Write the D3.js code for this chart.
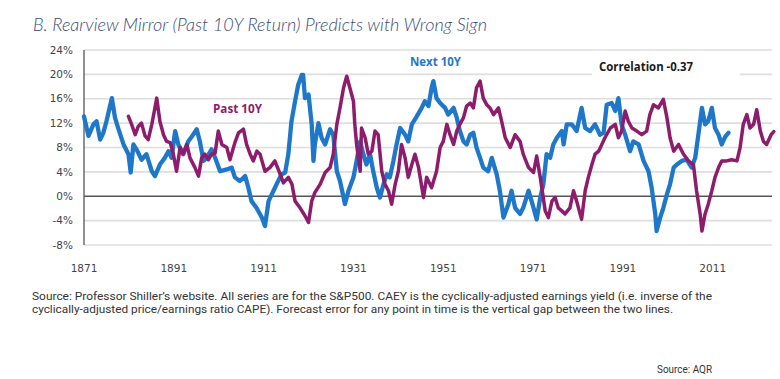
<!DOCTYPE html>
<html>
<head>
<meta charset="utf-8">
<script src="https://cdn.jsdelivr.net/npm/d3@7"></script>
<style>
  html, body { margin: 0; padding: 0; background: #fff; }
  svg { display: block; }
</style>
</head>
<body>
<div id="chart"></div>
<script>
// ---- Data ----
const yTickValues = [-8, -4, 0, 4, 8, 12, 16, 20, 24];
const xTickLabels = [1871, 1891, 1911, 1931, 1951, 1971, 1991, 2011];

const nextYears = [1871.0,1872.0,1873.1,1873.8,1874.6,1875.3,1876.0,1877.2,1877.9,1878.6,1879.8,1880.9,1881.4,1882.0,1882.7,1883.8,1884.9,1886.1,1886.8,1887.9,1889.0,1889.8,1890.5,1891.3,1892.0,1893.1,1894.2,1895.3,1896.1,1896.8,1897.6,1898.3,1899.4,1900.2,1901.3,1902.8,1903.9,1904.6,1905.7,1906.9,1907.6,1908.3,1909.4,1910.6,1911.3,1912.1,1913.2,1913.9,1915.0,1915.8,1916.5,1917.2,1918.0,1918.7,1919.5,1919.8,1920.2,1921.0,1921.7,1922.1,1922.4,1923.2,1923.9,1924.7,1925.8,1926.5,1927.3,1928.0,1928.8,1929.1,1929.9,1931.0,1931.7,1932.5,1933.2,1933.9,1934.7,1935.4,1936.2,1936.9,1937.7,1938.4,1939.1,1939.9,1940.6,1941.4,1942.5,1943.2,1944.0,1945.1,1946.2,1946.9,1947.7,1948.4,1948.8,1949.5,1950.3,1951.4,1952.1,1953.3,1954.0,1954.7,1955.5,1956.2,1957.0,1957.7,1958.4,1959.2,1959.9,1961.0,1961.8,1962.9,1963.6,1964.4,1965.5,1966.2,1967.0,1968.1,1968.8,1970.0,1971.1,1971.8,1972.6,1973.3,1974.0,1974.8,1975.5,1976.3,1977.4,1977.8,1978.5,1979.6,1980.7,1981.8,1982.6,1983.7,1984.8,1985.9,1986.7,1987.4,1988.5,1989.3,1990.0,1990.7,1991.5,1992.6,1993.3,1994.5,1995.6,1996.7,1997.4,1998.2,1998.5,1999.3,2000.0,2000.8,2001.5,2002.3,2003.0,2004.1,2005.2,2006.3,2007.1,2007.8,2008.6,2009.3,2010.0,2010.8,2011.5,2012.3,2013.0,2013.8,2014.5];
const nextValues = [13.1,9.9,11.8,12.3,9.3,10.4,12.3,16.1,12.9,11.2,8.5,6.9,3.9,8.5,7.7,6.0,6.9,4.1,3.3,5.2,6.3,7.4,6.3,10.7,8.5,6.9,9.0,10.1,11.0,9.0,5.8,6.3,7.7,6.3,4.1,4.4,4.7,3.1,2.5,3.3,1.4,-0.8,-1.9,-3.5,-4.9,-0.8,0.9,2.0,3.6,3.9,6.9,12.3,15.6,18.3,19.9,19.9,16.1,16.7,11.8,5.8,8.5,12.0,9.6,8.5,11.0,10.1,4.1,2.5,-0.2,-1.3,0.9,3.1,5.8,9.0,6.9,5.2,6.9,4.1,1.4,-0.2,2.0,3.6,3.1,5.8,8.5,11.2,10.1,9.0,11.8,13.1,14.5,15.6,14.8,17.8,18.9,16.1,15.3,14.5,13.4,14.5,12.9,10.7,9.0,8.5,10.1,10.4,8.0,6.3,4.7,4.1,6.3,3.6,0.9,-3.5,-1.3,0.9,-1.9,-2.9,-1.9,0.9,-1.9,-3.8,-0.2,2.0,6.9,6.3,8.5,9.6,10.7,8.5,11.8,11.8,10.7,14.5,11.2,10.7,11.8,10.1,10.4,15.0,15.3,14.0,16.1,11.8,10.1,7.4,9.0,8.5,5.8,4.1,1.4,-2.9,-5.7,-3.5,-1.9,0.3,2.0,4.7,5.2,5.8,6.0,4.7,6.3,10.1,14.5,11.8,12.3,14.5,11.2,10.1,8.5,9.8,10.4];

const pastYears = [1880.9,1881.6,1882.4,1883.1,1883.8,1884.6,1885.3,1886.1,1886.8,1887.2,1887.9,1888.7,1889.4,1890.2,1890.9,1891.6,1892.4,1893.1,1893.9,1894.6,1895.7,1896.5,1897.2,1897.9,1898.7,1899.4,1900.2,1900.9,1901.7,1902.8,1903.5,1904.6,1905.4,1906.5,1907.2,1908.0,1908.7,1909.5,1910.2,1911.3,1912.4,1913.5,1914.7,1915.4,1916.5,1917.3,1918.0,1919.1,1920.2,1921.0,1921.7,1922.4,1923.6,1924.7,1925.8,1926.5,1927.3,1928.0,1928.8,1929.5,1930.2,1931.0,1931.3,1931.7,1932.5,1932.8,1933.6,1934.3,1935.1,1935.8,1936.5,1937.3,1938.0,1938.8,1939.5,1940.3,1941.0,1941.7,1942.5,1943.2,1944.0,1944.7,1945.5,1946.6,1947.3,1948.4,1949.5,1950.3,1951.0,1951.8,1952.5,1953.3,1954.0,1954.7,1955.5,1956.2,1957.0,1957.7,1958.4,1959.2,1959.9,1960.7,1961.4,1962.2,1963.3,1964.0,1964.8,1965.9,1967.0,1968.1,1968.8,1970.0,1971.1,1971.8,1972.6,1973.7,1974.4,1975.2,1975.9,1976.6,1977.4,1978.1,1979.2,1980.0,1980.7,1981.8,1982.6,1983.3,1984.1,1984.8,1985.6,1986.3,1987.0,1988.2,1989.3,1990.0,1990.7,1991.5,1992.2,1993.0,1994.1,1995.2,1996.3,1997.0,1997.8,1998.9,2000.0,2000.8,2001.5,2002.3,2003.4,2004.5,2005.6,2006.7,2007.4,2008.2,2008.6,2009.3,2010.0,2010.8,2011.5,2012.3,2013.0,2014.1,2015.2,2016.4,2017.1,2017.8,2018.6,2019.3,2020.1,2020.8,2021.6,2022.3,2023.0,2024.0,2024.6];
const pastValues = [13.1,11.8,10.1,11.5,12.0,9.9,9.3,11.8,14.5,16.1,12.3,10.1,9.0,8.8,6.9,4.1,8.0,6.9,8.5,6.3,4.7,3.3,6.3,6.9,6.0,6.9,7.1,10.7,8.5,8.0,6.0,8.8,10.4,11.0,8.5,6.9,5.8,7.4,6.9,4.1,4.7,5.8,3.6,2.2,3.1,2.0,-0.8,-1.9,-3.2,-4.3,-0.8,0.6,2.0,3.9,4.7,6.9,11.8,14.5,17.8,19.7,17.8,15.6,11.8,8.5,4.1,11.2,9.6,6.9,7.4,10.7,10.1,4.1,2.0,0.9,-1.3,2.0,4.1,8.5,6.3,3.1,5.2,6.9,4.7,-0.2,3.1,1.4,4.1,8.0,9.0,11.8,10.1,8.5,10.7,11.8,12.9,14.8,15.3,14.5,17.8,18.9,16.1,15.0,14.5,13.4,14.5,12.3,9.6,8.0,10.1,9.0,6.9,4.7,3.9,6.6,3.1,-2.4,-3.5,-0.8,-0.2,-1.9,-2.4,-2.9,-1.9,0.9,-0.8,-3.8,0.9,3.1,5.2,6.9,7.4,8.5,9.6,11.2,11.8,9.6,10.7,14.0,12.3,11.2,10.7,10.1,10.7,13.4,15.0,14.5,15.9,12.9,9.6,7.4,8.5,6.9,5.8,5.2,0.9,-2.9,-5.7,-2.9,-1.3,0.9,3.1,4.7,5.8,5.8,6.0,5.8,8.0,11.8,13.4,11.2,11.8,14.2,10.7,9.0,8.5,10.1,10.6];

// ---- Chart ----
const W = 780, H = 379;
const svg = d3.select("#chart").append("svg").attr("width", W).attr("height", H);

const x = d3.scaleLinear().domain([1871, 2024.2]).range([84, 772]);
const y = d3.scaleLinear().domain([-8, 24]).range([245, 50]);

const blue = "#1f77c9", purple = "#8d1d6c";

// Title
svg.append("text")
  .attr("x", 33).attr("y", 31)
  .attr("font-family", "Lato, 'Open Sans', sans-serif")
  .attr("font-style", "italic")
  .attr("font-weight", 300)
  .attr("font-size", 17.5)
  .attr("fill", "#3c4c7a")
  .attr("textLength", 454).attr("lengthAdjust", "spacingAndGlyphs")
  .text("B. Rearview Mirror (Past 10Y Return) Predicts with Wrong Sign");

// Gridlines
svg.append("g").selectAll("line").data(yTickValues.filter(d => d !== 0)).join("line")
  .attr("x1", x(1871)).attr("x2", 772)
  .attr("y1", d => y(d)).attr("y2", d => y(d))
  .attr("stroke", "#dedede").attr("stroke-width", 1.6);

// Correlation box (white, hides grid)
svg.append("rect").attr("x", 592).attr("y", 56).attr("width", 148).attr("height", 24).attr("fill", "#fff");

// Zero line
svg.append("line")
  .attr("x1", x(1871)).attr("x2", 772).attr("y1", y(0)).attr("y2", y(0))
  .attr("stroke", "#555").attr("stroke-width", 1.3);

// Y axis line
svg.append("line")
  .attr("x1", x(1871)).attr("x2", x(1871)).attr("y1", y(24)).attr("y2", y(-8))
  .attr("stroke", "#555").attr("stroke-width", 1.3);

// Y tick labels
svg.append("g").selectAll("text").data(yTickValues).join("text")
  .attr("x", 73).attr("y", d => y(d)).attr("dy", "0.35em")
  .attr("text-anchor", "end")
  .attr("font-family", "'DejaVu Sans', sans-serif").attr("font-size", 10.5)
  .attr("fill", "#444")
  .text(d => d + "%");

// X tick labels
svg.append("g").selectAll("text").data(xTickLabels).join("text")
  .attr("x", d => x(d)).attr("y", 268).attr("dy", "0.35em")
  .attr("text-anchor", "middle")
  .attr("font-family", "'DejaVu Sans', sans-serif").attr("font-size", 10.5)
  .attr("fill", "#444")
  .text(d => String(d));

// Lines
const line = d3.line().x(d => x(d[0])).y(d => y(d[1]));
const nextData = nextYears.map((yr, i) => [yr, nextValues[i]]);
const pastData = pastYears.map((yr, i) => [yr, pastValues[i]]);

svg.append("path").datum(nextData).attr("d", line)
  .attr("fill", "none").attr("stroke", blue).attr("stroke-width", 4.3)
  .attr("stroke-linejoin", "round").attr("stroke-linecap", "round");
svg.append("path").datum(pastData).attr("d", line)
  .attr("fill", "none").attr("stroke", purple).attr("stroke-width", 3.5)
  .attr("stroke-linejoin", "round").attr("stroke-linecap", "round");

// Series labels
svg.append("text").attr("x", 213).attr("y", 113)
  .attr("font-family", "'Open Sans', sans-serif").attr("font-weight", "bold").attr("font-size", 12)
  .attr("fill", purple).attr("textLength", 49).attr("lengthAdjust", "spacingAndGlyphs")
  .text("Past 10Y");
svg.append("text").attr("x", 410).attr("y", 66)
  .attr("font-family", "'Open Sans', sans-serif").attr("font-weight", "bold").attr("font-size", 12)
  .attr("fill", blue).attr("textLength", 51).attr("lengthAdjust", "spacingAndGlyphs")
  .text("Next 10Y");
svg.append("text").attr("x", 599).attr("y", 71)
  .attr("font-family", "'Open Sans', sans-serif").attr("font-weight", "bold").attr("font-size", 12)
  .attr("fill", "#1a1a1a").attr("textLength", 94).attr("lengthAdjust", "spacingAndGlyphs")
  .text("Correlation -0.37");

// Footnote
const foot = [
  ["Source: Professor Shiller\u2019s website. All series are for the S&P500. CAEY is the cyclically-adjusted earnings yield (i.e. inverse of the", 680],
  ["cyclically-adjusted price/earnings ratio CAPE). Forecast error for any point in time is the vertical gap between the two lines.", 641]
];
svg.append("g").selectAll("text").data(foot).join("text")
  .attr("x", 32).attr("y", (d, i) => 300 + i * 13)
  .attr("font-family", "Roboto, sans-serif").attr("font-size", 11.5)
  .attr("fill", "#333")
  .attr("textLength", d => d[1]).attr("lengthAdjust", "spacingAndGlyphs")
  .text(d => d[0]);

svg.append("text").attr("x", 657).attr("y", 373)
  .attr("font-family", "Roboto, sans-serif").attr("font-size", 10)
  .attr("fill", "#333").attr("textLength", 55).attr("lengthAdjust", "spacingAndGlyphs")
  .text("Source: AQR");
</script>
</body>
</html>
